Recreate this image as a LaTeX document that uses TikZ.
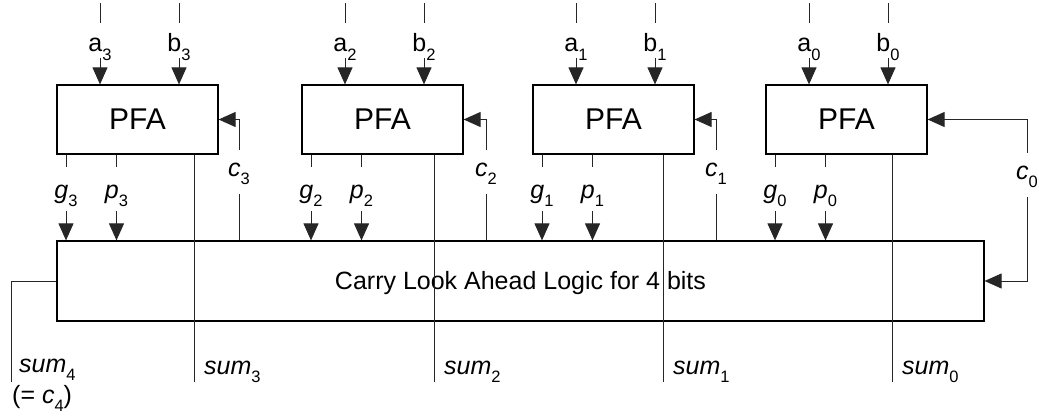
\documentclass[tikz,border=0pt]{standalone}
\usepackage{fontspec}
\setmainfont{Liberation Sans}
\usetikzlibrary{arrows.meta}
% label with a lowered, smaller index
\newcommand\lsub[2]{#1\raisebox{-0.33em}{\fontsize{16.5}{16.5}\selectfont #2}}
\tikzset{
  wire/.style={line width=1pt, draw=black!85},
  arr/.style={-{Triangle[length=17pt,width=15pt]}},
  box/.style={draw=black, line width=1.2pt, inner sep=0pt},
  pfa/.style={box, minimum width=161pt, minimum height=69pt, font=\fontsize{30}{30}\selectfont},
  cla/.style={box, minimum width=927pt, minimum height=80pt, text height=18pt, text depth=2pt,
              font=\fontsize{25}{25}\selectfont},
  lbl/.style={inner sep=0pt, outer sep=0pt, anchor=base, font=\fontsize{25}{25}\selectfont},
  inlbl/.style={lbl, text height=29pt, text depth=6pt},
  gplbl/.style={lbl, text height=31pt, text depth=13pt},
  clbl/.style={lbl, text height=26pt, text depth=18pt},
  sumlbl/.style={inner sep=0pt, anchor=base west, font=\fontsize{25}{25}\selectfont},
}
\begin{document}
\begin{tikzpicture}[x=1pt, y=-1pt]
\useasboundingbox (0,0) rectangle (1039,417);

% carry look-ahead unit
\node[cla] (cla) at (520.5,281) {Carry Look Ahead Logic for 4 bits};

% four partial full adders with their inputs and outputs
\foreach \i/\fx/\sx in {3/57/194, 2/302/434, 1/533/663, 0/766/892} {
  \node[pfa] (f\i) at ({\fx+80.5},119.5) {PFA};
  % operand inputs
  \coordinate (ta\i) at ({\fx+43},3);
  \coordinate (tb\i) at ({\fx+122},3);
  \node[inlbl] (la\i) at ({\fx+43},52) {\lsub{a}{\i}};
  \node[inlbl] (lb\i) at ({\fx+122},52) {\lsub{b}{\i}};
  \draw[wire] (ta\i) -- (la\i.north);
  \draw[wire] (tb\i) -- (lb\i.north);
  \draw[wire,arr] (la\i.south) -- (la\i.south |- f\i.north);
  \draw[wire,arr] (lb\i.south) -- (lb\i.south |- f\i.north);
  % generate / propagate
  \node[gplbl] (lg\i) at ({\fx+9},198) {\lsub{\textit{g}}{\i}};
  \node[gplbl] (lp\i) at ({\fx+59.5},198) {\lsub{\textit{p}}{\i}};
  \draw[wire] (lg\i.north |- f\i.south) -- (lg\i.north);
  \draw[wire] (lp\i.north |- f\i.south) -- (lp\i.north);
  \draw[wire,arr] (lg\i.south) -- (lg\i.south |- cla.north);
  \draw[wire,arr] (lp\i.south) -- (lp\i.south |- cla.north);
  % sum output
  \coordinate (se\i) at (\sx,382);
  \draw[wire] (se\i |- f\i.south) -- (se\i);
  \node[sumlbl] (ls\i) at ({\sx+10},374) {\lsub{\textit{sum}}{\i}};
}

% carries from the look-ahead unit
\foreach \i/\cx in {3/239, 2/486, 1/716} {
  \node[clbl] (lc\i) at (\cx,176) {\lsub{\textit{c}}{\i}};
  \draw[wire,arr] (lc\i.north) |- (f\i.east);
  \draw[wire] (lc\i.south) -- (lc\i.south |- cla.north);
}
\node[clbl] (lc0) at (1027,179) {\lsub{\textit{c}}{0}};
\draw[wire,arr] (lc0.north) |- (f0.east);
\draw[wire,arr] (lc0.south) |- (cla.east);

% carry out
\coordinate (se4) at (11,382);
\draw[wire] (cla.west) -| (se4);
\node[sumlbl] (ls4) at (19,372) {\lsub{\textit{sum}}{4}};
\node[sumlbl] (lc4) at (12,403) {(= \lsub{\textit{c}}{4})};
\end{tikzpicture}
\end{document}
